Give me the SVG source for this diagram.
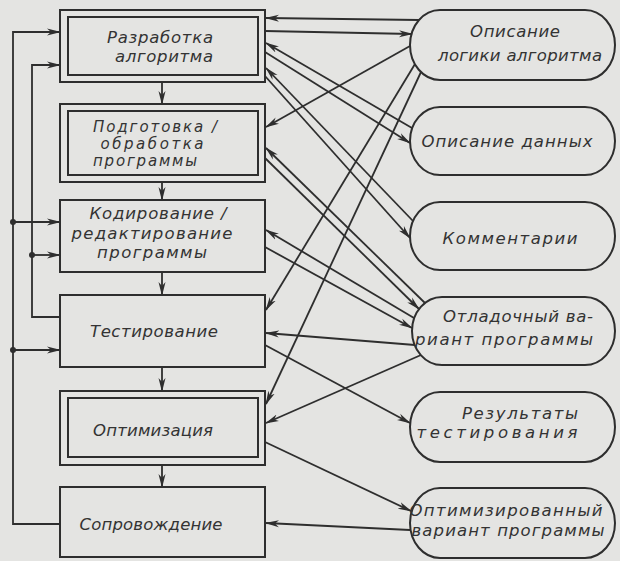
<svg xmlns="http://www.w3.org/2000/svg" width="620" height="561" viewBox="0 0 620 561">
<defs>
<style>
.bg{fill:#e4e4e2}
.box{fill:none;stroke:#2e2e2e;stroke-width:2}
.ov{fill:none;stroke:#2e2e2e;stroke-width:2}
.ar{fill:none;stroke:#2e2e2e;stroke-width:1.8;marker-end:url(#ah)}
.dot{fill:#2e2e2e}
text{font-family:"DejaVu Sans","Liberation Sans",sans-serif;font-style:italic;font-size:16.5px;fill:#333;text-anchor:middle}
text.sm{font-size:15px}
</style>
<marker id="ah" viewBox="0 0 14 8" refX="13" refY="4" markerWidth="14" markerHeight="8" markerUnits="userSpaceOnUse" orient="auto">
<path d="M0,0.5 L14,4 L0,7.5 L4,4 Z" fill="#2e2e2e"/>
</marker>
</defs>
<rect class="bg" x="0" y="0" width="620" height="561"/>

<g id="connectors">
<line class="ar" x1="162" y1="82" x2="162" y2="104"/>
<line class="ar" x1="162" y1="182" x2="162" y2="200"/>
<line class="ar" x1="162" y1="272" x2="162" y2="295"/>
<line class="ar" x1="162" y1="367" x2="162" y2="391"/>
<line class="ar" x1="162" y1="465" x2="162" y2="487"/>
<polyline class="ar" points="60,524 13,524 13,32 60,32"/>
<line class="ar" x1="13" y1="222" x2="60" y2="222"/>
<line class="ar" x1="13" y1="350" x2="60" y2="350"/>
<circle class="dot" cx="13" cy="222" r="3"/>
<circle class="dot" cx="13" cy="350" r="3"/>
<polyline class="ar" points="60,317 32,317 32,65 60,65"/>
<line class="ar" x1="32" y1="255" x2="60" y2="255"/>
<circle class="dot" cx="32" cy="255" r="3"/>
<line class="ar" x1="419" y1="20" x2="266" y2="18"/>
<line class="ar" x1="265" y1="31" x2="412" y2="34"/>
<line class="ar" x1="410" y1="46" x2="266" y2="127"/>
<line class="ar" x1="415" y1="64" x2="266" y2="310"/>
<line class="ar" x1="421" y1="72" x2="266" y2="404"/>
<line class="ar" x1="412" y1="128" x2="266" y2="43"/>
<line class="ar" x1="265" y1="52" x2="410" y2="143"/>
<line class="ar" x1="413" y1="221" x2="266" y2="68"/>
<line class="ar" x1="265" y1="76" x2="410" y2="238"/>
<line class="ar" x1="425" y1="303" x2="266" y2="148"/>
<line class="ar" x1="265" y1="158" x2="419" y2="309"/>
<line class="ar" x1="414" y1="318" x2="266" y2="230"/>
<line class="ar" x1="265" y1="247" x2="412" y2="328"/>
<line class="ar" x1="415" y1="345" x2="266" y2="333"/>
<line class="ar" x1="421" y1="355" x2="266" y2="423"/>
<line class="ar" x1="265" y1="345" x2="410" y2="423"/>
<line class="ar" x1="265" y1="442" x2="411" y2="511"/>
<line class="ar" x1="410" y1="530" x2="266" y2="523"/>
</g>

<g id="n1">
<rect class="box" x="60" y="10" width="205" height="72"/>
<rect class="box" x="68" y="17" width="190" height="58"/>
<text x="160" y="43" textLength="106" lengthAdjust="spacing">Разработка</text>
<text x="164" y="62" textLength="98" lengthAdjust="spacing">алгоритма</text>
</g>
<g id="n2">
<rect class="box" x="60" y="104" width="205" height="78"/>
<rect class="box" x="68" y="111" width="190" height="64"/>
<text class="sm" x="155" y="132" textLength="124" lengthAdjust="spacing">Подготовка /</text>
<text class="sm" x="152" y="149" textLength="103" lengthAdjust="spacing">обработка</text>
<text class="sm" x="145" y="166" textLength="104" lengthAdjust="spacing">программы</text>
</g>
<g id="n3">
<rect class="box" x="60" y="200" width="205" height="72"/>
<text x="158" y="219" textLength="137" lengthAdjust="spacing">Кодирование /</text>
<text x="152" y="239" textLength="161" lengthAdjust="spacing">редактирование</text>
<text x="152" y="258" textLength="110" lengthAdjust="spacing">программы</text>
</g>
<g id="n4">
<rect class="box" x="60" y="295" width="205" height="72"/>
<text x="154" y="337" textLength="128" lengthAdjust="spacing">Тестирование</text>
</g>
<g id="n5">
<rect class="box" x="60" y="391" width="205" height="74"/>
<rect class="box" x="68" y="398" width="190" height="59"/>
<text x="153" y="436" textLength="120" lengthAdjust="spacing">Оптимизация</text>
</g>
<g id="n6">
<rect class="box" x="60" y="487" width="205" height="70"/>
<text x="151" y="530" textLength="143" lengthAdjust="spacing">Сопровождение</text>
</g>

<g id="o1">
<rect class="ov" x="410" y="10" width="205" height="70" rx="30" ry="35"/>
<text x="515" y="37" textLength="90" lengthAdjust="spacing">Описание</text>
<text x="520" y="61" textLength="164" lengthAdjust="spacing">логики алгоритма</text>
</g>
<g id="o2">
<rect class="ov" x="410" y="107" width="205" height="68" rx="30" ry="34"/>
<text x="507" y="147" textLength="171" lengthAdjust="spacing">Описание данных</text>
</g>
<g id="o3">
<rect class="ov" x="410" y="202" width="205" height="68" rx="30" ry="34"/>
<text x="510" y="244" textLength="135" lengthAdjust="spacing">Комментарии</text>
</g>
<g id="o4">
<rect class="ov" x="412" y="297" width="203" height="68" rx="30" ry="34"/>
<text x="518" y="322" textLength="150" lengthAdjust="spacing">Отладочный ва-</text>
<text x="504" y="345" textLength="178" lengthAdjust="spacing">риант программы</text>
</g>
<g id="o5">
<rect class="ov" x="410" y="392" width="205" height="70" rx="30" ry="35"/>
<text x="520" y="419" textLength="116" lengthAdjust="spacing">Результаты</text>
<text x="497" y="438" textLength="161" lengthAdjust="spacing">тестирования</text>
</g>
<g id="o6">
<rect class="ov" x="410" y="488" width="205" height="70" rx="30" ry="35"/>
<text x="506" y="516" textLength="193" lengthAdjust="spacing">Оптимизированный</text>
<text x="508" y="536" textLength="193" lengthAdjust="spacing">вариант программы</text>
</g>
</svg>
